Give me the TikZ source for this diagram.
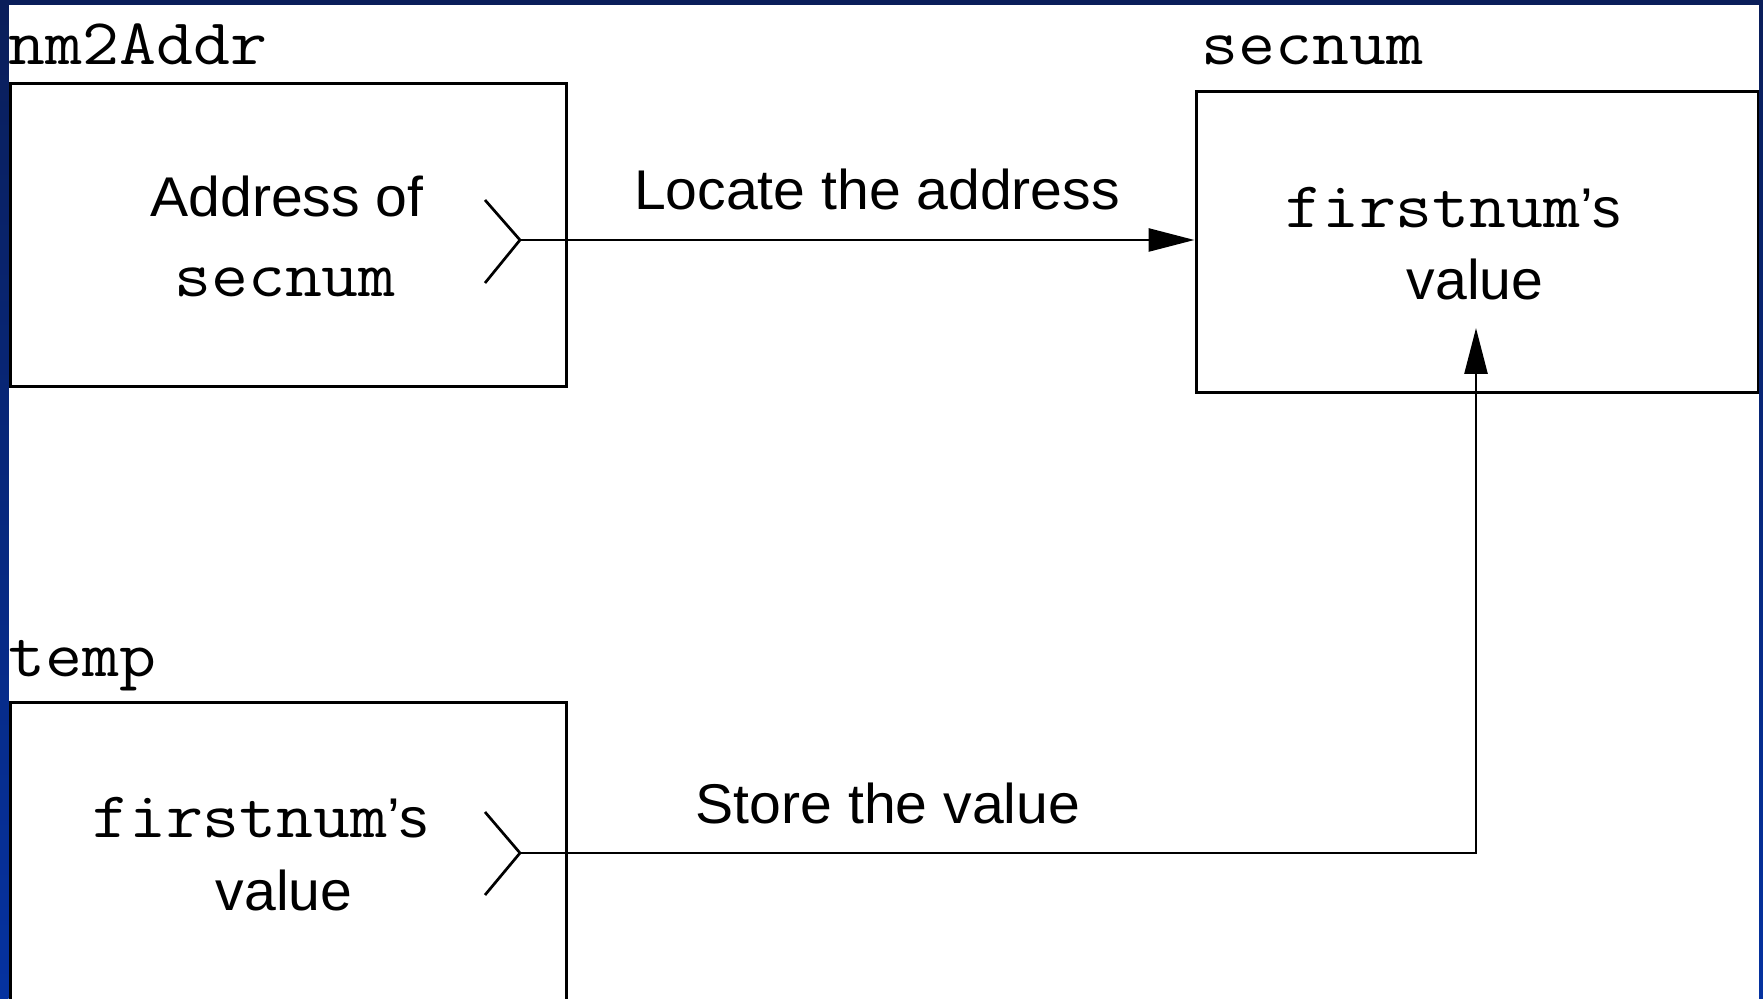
\documentclass[tikz,border=0pt]{standalone}
\usepackage{fontspec}
\setmainfont[FakeStretch=1.02]{Liberation Sans}
\setmonofont[FakeStretch=1.1]{Latin Modern Mono}
\usetikzlibrary{arrows.meta}
\definecolor{navytop}{RGB}{10,30,90}
\definecolor{royal}{RGB}{5,50,160}
\newcommand{\sanssize}{\fontsize{28pt}{32pt}\selectfont}
\tikzset{
  box/.style={draw=black, line width=1.5pt, inner sep=0pt, fill=none},
  conn/.style={line width=1.35pt, draw=black},
  tip/.style={-{Triangle[length=23pt,width=11.5pt]}},
  sanstxt/.style={inner sep=0pt, anchor=base, font=\sanssize},
  monolab/.style={inner sep=0pt, anchor=base west, font=\fontsize{32.6pt}{36pt}\selectfont\ttfamily},
  monotxt/.style={inner sep=0pt, anchor=base, font=\fontsize{32.6pt}{36pt}\selectfont},
}
\begin{document}
\begin{tikzpicture}[x=0.5pt,y=-0.5pt]
\useasboundingbox (0,0) rectangle (1763,999);
\clip (0,0) rectangle (1763,999);
\fill[white] (0,0) rectangle (1763,999);

% boxes
\node[box, minimum width=278pt, minimum height=151.5pt] (box1) at (288,235.5) {};
\node[box, minimum width=281pt, minimum height=150.5pt] (box2) at (1477,242.5) {};
\node[box, minimum width=278pt, minimum height=168.5pt] (box3) at (288,871.5) {};

% labels above boxes
\node[monolab] (lab1) at (8,65) {nm2Addr};
\node[monolab] (lab2) at (1201,65) {secnum};
\node[monolab] (lab3) at (8,677) {temp};

% box contents
\node[sanstxt] (b1a) at (287,217) {Address of};
\node[monotxt] (b1b) at (285,297) {\ttfamily secnum};
\node[monotxt] (b2a) at (1453,228) {{\ttfamily firstnum}{\sanssize ’s}};
\node[sanstxt] (b2b) at (1475,300) {value};
\node[monotxt] (b3a) at (260,838) {{\ttfamily firstnum}{\sanssize ’s}};
\node[sanstxt] (b3b) at (284,910) {value};

% connector labels
\node[sanstxt] (l1) at (877,210) {Locate the address};
\node[sanstxt] (l2) at (888,824) {Store the value};

% connectors
\coordinate (c1) at (520,240);
\coordinate (c2) at (520,853);
\coordinate (tip2) at (1476,328);
\draw[conn] ([shift={(-35,-40)}]c1) -- (c1) -- ([shift={(-35,43)}]c1);
\draw[conn] ([shift={(-35,-41)}]c2) -- (c2) -- ([shift={(-35,42)}]c2);
\draw[conn,tip] (c1) -- (c1 -| box2.west);
\draw[conn,tip] (c2) -| (tip2);

% blue frame
\fill[navytop] (0,0) rectangle (1763,5);
\shade[top color=navytop, middle color=royal, bottom color=royal] (0,0) rectangle (8.5,999);
\shade[top color=navytop, middle color=royal, bottom color=royal] (1759,0) rectangle (1763,999);
\end{tikzpicture}
\end{document}
